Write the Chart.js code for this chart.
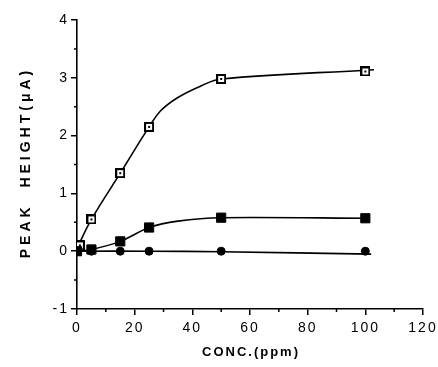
<!DOCTYPE html>
<html>
<head>
<meta charset="utf-8">
<script src="https://cdn.jsdelivr.net/npm/chart.js@4.4.1/dist/chart.umd.min.js"></script>
<style>
  html, body { margin: 0; padding: 0; background: #fff; }
  #wrap { width: 438px; height: 367px; }
</style>
</head>
<body>
<div id="wrap"><canvas id="chart" width="438" height="367"></canvas></div>
<script>
// measured points (conc in ppm, peak height in uA)
const openConc = [1, 5, 15, 25, 50, 100];
const openHeight = [0.1, 0.55, 1.35, 2.15, 2.98, 3.11];
const filledConc = [0, 5, 15, 25, 50, 100];
const filledHeight = [0, 0.03, 0.17, 0.41, 0.58, 0.57];
const circleConc = [0, 5, 15, 25, 50, 100];
const circleHeight = [0, 0, 0, 0, 0, 0];

// hand-drawn fit curves
const openFitConc = [0, 5, 15, 25, 29, 35, 43, 50, 103];
const openFitHeight = [0.05, 0.55, 1.35, 2.15, 2.43, 2.66, 2.86, 2.98, 3.14];
const filledFitConc = [0, 5, 15, 25, 35, 50, 101];
const filledFitHeight = [0, 0.03, 0.17, 0.41, 0.52, 0.58, 0.57];
const circleFitConc = [0, 25, 50, 102];
const circleFitHeight = [0, 0, -0.01, -0.05];

const xTicks = [0, 20, 40, 60, 80, 100, 120];
const yTicks = [-1, 0, 1, 2, 3, 4];

const xTitle = "CONC.(ppm)";
const yTitle = "PEAK  HEIGHT(\u03bcA)";

const pts = (xs, ys) => xs.map((x, i) => ({ x, y: ys[i] }));

// open square with a small dot in the middle
const openMarker = document.createElement("canvas");
openMarker.width = 10;
openMarker.height = 10;
(() => {
  const c = openMarker.getContext("2d");
  c.fillStyle = "#000";
  c.fillRect(0, 0, 10, 10);
  c.fillStyle = "#fff";
  c.fillRect(2, 2, 6, 6);
  c.fillStyle = "#000";
  c.fillRect(4, 4, 2, 2);
})();

const fitLine = (data, tension) => ({
  type: "line",
  data,
  borderColor: "#000",
  borderWidth: 1.6,
  pointRadius: 0,
  fill: false,
  tension,
  order: 2,
});

const markers = (data, style, radius) => ({
  type: "scatter",
  data,
  pointStyle: style,
  pointRadius: radius,
  backgroundColor: "#000",
  borderColor: "#000",
  borderWidth: 1,
  order: 1,
});

// wide letter spacing of the original typesetting, axis titles drawn here too
const lettering = {
  id: "lettering",
  beforeUpdate(chart) { chart.ctx.letterSpacing = "2px"; },
  beforeDraw(chart) { chart.ctx.letterSpacing = "2px"; },
  afterDraw(chart) {
    const { ctx, chartArea: a } = chart;
    ctx.save();
    ctx.fillStyle = "#000";
    ctx.textAlign = "center";
    ctx.textBaseline = "middle";
    ctx.font = "bold 13px 'Liberation Sans'";
    ctx.letterSpacing = "2px";
    ctx.fillText(xTitle, (a.left + a.right) / 2 + 1, 352);
    ctx.translate(26, (a.top + a.bottom) / 2);
    ctx.rotate(-Math.PI / 2);
    ctx.font = "bold 14px 'Liberation Sans'";
    ctx.letterSpacing = "4px";
    ctx.fillText(yTitle, 2, 0);
    ctx.restore();
  },
};

// minor ticks half way between the major ones
const minorTicks = {
  id: "minorTicks",
  afterDraw(chart) {
    const { ctx, scales: { x, y } } = chart;
    ctx.save();
    ctx.strokeStyle = "#000";
    ctx.lineWidth = 1.5;
    ctx.beginPath();
    for (let v = 10; v < 120; v += 20) {
      const px = x.getPixelForValue(v);
      ctx.moveTo(px, y.bottom);
      ctx.lineTo(px, y.bottom + 3);
    }
    for (let v = -0.5; v < 4; v += 1) {
      const py = y.getPixelForValue(v);
      ctx.moveTo(x.left, py);
      ctx.lineTo(x.left - 3, py);
    }
    ctx.stroke();
    ctx.restore();
  },
};

const tickFont = { family: "Liberation Sans", size: 14 };

const ctx = document.getElementById("chart").getContext("2d");
new Chart(ctx, {
  data: {
    datasets: [
      fitLine(pts(openFitConc, openFitHeight), 0.4),
      fitLine(pts(filledFitConc, filledFitHeight), 0.3),
      fitLine(pts(circleFitConc, circleFitHeight), 0.3),
      markers(pts(filledConc, filledHeight), "rect", 6.5),
      markers(pts(openConc, openHeight), openMarker, 5),
      markers(pts(circleConc, circleHeight), "circle", 4),
    ],
  },
  options: {
    responsive: false,
    animation: false,
    layout: { padding: { top: 20, right: 0, left: 0, bottom: 0 } },
    plugins: { legend: { display: false }, tooltip: { enabled: false } },
    scales: {
      x: {
        type: "linear",
        min: 0,
        max: 120,
        afterBuildTicks: (s) => { s.ticks = xTicks.map((v) => ({ value: v })); },
        afterFit: (s) => { s.height = 58; s.paddingLeft = 0; s.paddingRight = 15; },
        grid: { drawOnChartArea: false, tickLength: 6, color: "#000", lineWidth: 1.5 },
        border: { color: "#000", width: 1.6 },
        ticks: { color: "#000", font: tickFont, padding: 5 },
      },
      y: {
        type: "linear",
        min: -1,
        max: 4,
        afterBuildTicks: (s) => { s.ticks = yTicks.map((v) => ({ value: v })); },
        afterFit: (s) => { s.width = 77; },
        grid: { drawOnChartArea: false, tickLength: 6, color: "#000", lineWidth: 1.5 },
        border: { color: "#000", width: 1.6 },
        ticks: { color: "#000", font: tickFont, padding: 2 },
      },
    },
  },
  plugins: [lettering, minorTicks],
});
</script>
</body>
</html>
